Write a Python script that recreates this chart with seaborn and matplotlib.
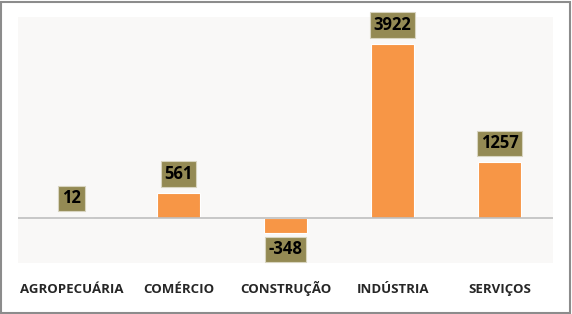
import matplotlib
matplotlib.use("Agg")
import matplotlib.pyplot as plt
import seaborn as sns
import pandas as pd
from matplotlib.patches import Rectangle

categories = ["AGROPECUÁRIA", "COMÉRCIO", "CONSTRUÇÃO", "INDÚSTRIA", "SERVIÇOS"]
values = [12, 561, -348, 3922, 1257]

sns.set_theme(style="white")
plt.rcParams['font.family'] = ['Open Sans', 'DejaVu Sans']

df = pd.DataFrame({"setor": categories, "saldo": values})

fig = plt.figure(figsize=(5.72, 3.14), dpi=100)
fig.patch.set_facecolor("white")
ax = fig.add_axes([18/572, 1 - 263/314, (553-18)/572, (263-17)/314])
ax.set_facecolor("#f9f8f7")

sns.barplot(data=df, x="setor", y="saldo", color="#F79646", saturation=1,
            width=0.4, ax=ax, edgecolor="white", linewidth=0.8)

ax.axhline(0, color="#bfbfbf", linewidth=1.2, zorder=1)
ax.set_ylim(-1014, 4530)
ax.set_xlim(-0.5, 4.5)
for s in ax.spines.values():
    s.set_visible(False)
ax.set_yticks([])
ax.set_xlabel("")
ax.set_ylabel("")
ax.tick_params(axis="x", length=0, pad=21.5)
for lab in ax.get_xticklabels():
    lab.set_fontweight("bold")
    lab.set_fontsize(9.5)
    lab.set_color("#262626")
    lab.set_verticalalignment("baseline")

for p, v in zip(ax.patches, values):
    xc = p.get_x() + p.get_width() / 2
    off = 19 if v >= 0 else -16
    ax.annotate(f"{v}", xy=(xc, v), xytext=(0, off), textcoords="offset pixels",
                ha="center", va="center", fontsize=12, fontweight="bold", color="black",
                bbox=dict(boxstyle="square,pad=0.22", facecolor="#948A54", edgecolor="#d8d4c0", linewidth=0.8))

fig.add_artist(Rectangle((1/572, 1/314), 569/572, 311/314, transform=fig.transFigure,
                         fill=False, edgecolor="#8c8c8c", linewidth=1.5))

fig.savefig("out.png", dpi=100)
